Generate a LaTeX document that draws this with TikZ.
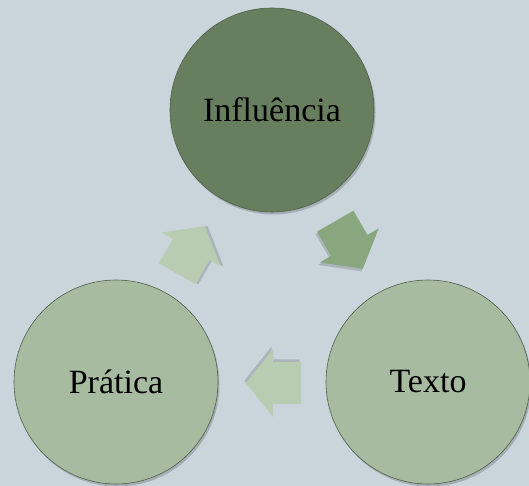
\documentclass[tikz,border=0pt]{standalone}
\usepackage{fontspec}
\setmainfont{Liberation Serif}
\definecolor{bgc}{HTML}{C9D4DB}
\definecolor{darkc}{HTML}{677F5E}
\definecolor{lightc}{HTML}{A7BBA1}
\definecolor{arrowdark}{HTML}{88A77F}
\definecolor{arrowlight}{HTML}{B8CCB1}
\definecolor{edgec}{HTML}{4F5F4A}
\tikzset{
  stagecircle/.style={circle, minimum size=204pt, inner sep=0pt, draw=edgec, line width=0.6pt,
    font=\fontsize{34}{40}\selectfont, text=black},
  shadowc/.style={fill=black, opacity=0.18},
}
\newcommand{\cyclearrowshape}[4]{%
  \begin{scope}[shift={(#1,#2)}, rotate=#3]
    \fill[black, opacity=0.15, shift={(1.5,-2.5)}] (-27.5,-21) -- (0.5,-21) -- (0.5,-34) -- (27.5,0) -- (0.5,34) -- (0.5,21) -- (-27.5,21) -- cycle;
    \fill[#4] (-27.5,-21) -- (0.5,-21) -- (0.5,-34) -- (27.5,0) -- (0.5,34) -- (0.5,21) -- (-27.5,21) -- cycle;
  \end{scope}}
\begin{document}
\begin{tikzpicture}[x=1pt,y=1pt]
  \fill[bgc] (0,0) rectangle (529,486);
  \useasboundingbox (0,0) rectangle (529,486);
  % shadows
  \fill[shadowc] (273.5,373.5) circle (102);
  \fill[shadowc] (117.5,101.5) circle (102);
  \fill[shadowc] (429.5,101.5) circle (102);
  % circles
  \node[stagecircle, fill=darkc] (infl) at (272,376) {Influência};
  \node[stagecircle, fill=lightc] (prat) at (116,104) {Prática};
  \node[stagecircle, fill=lightc] (texto) at (428,104) {Texto};
  % arrows
  \cyclearrowshape{349}{241}{-60}{arrowdark}
  \cyclearrowshape{273.5}{103}{180}{arrowlight}
  \cyclearrowshape{191}{236}{60}{arrowlight}
\end{tikzpicture}
\end{document}
